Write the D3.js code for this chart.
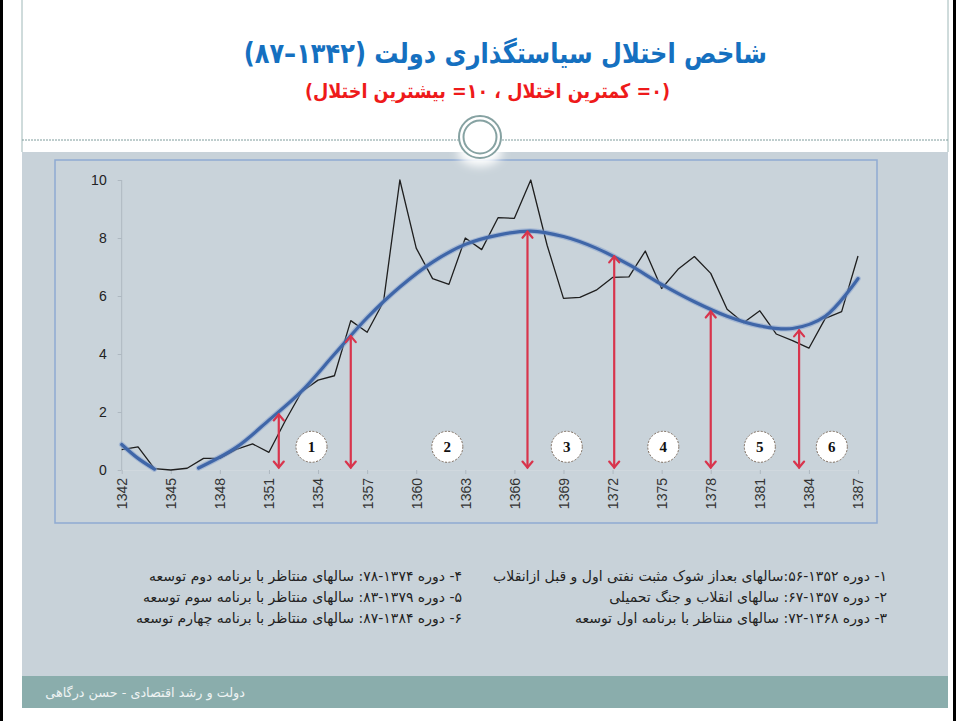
<!DOCTYPE html>
<html><head><meta charset="utf-8">
<script src="https://cdn.jsdelivr.net/npm/d3@7"></script>
<style>body{margin:0;background:#fff}svg{display:block}</style>
</head><body>
<script>
// ---- data ----
const years = [1342,1343,1344,1345,1346,1347,1348,1349,1350,1351,1352,1353,1354,1355,1356,1357,1358,1359,1360,1361,1362,1363,1364,1365,1366,1367,1368,1369,1370,1371,1372,1373,1374,1375,1376,1377,1378,1379,1380,1381,1382,1383,1384,1385,1386,1387];
const index = [0.7,0.8,0.05,0.0,0.06,0.4,0.4,0.71,0.9,0.61,1.7,2.7,3.1,3.25,5.15,4.75,5.8,10,7.65,6.6,6.4,8.0,7.6,8.7,8.68,10,7.75,5.92,5.95,6.2,6.64,6.66,7.55,6.26,6.92,7.36,6.78,5.54,5.08,5.49,4.69,4.46,4.2,5.23,5.46,7.38];
const trendYearsA = [1342,1343,1344];
const trendA = [0.88,0.4,0.03];
const trendYearsB = [1346.7,1349,1351,1353,1355,1357,1359,1361,1363,1365,1367,1369,1371,1373,1375,1377,1379,1381,1383,1385,1387];
const trendB = [0.07,0.78,1.72,2.72,3.99,5.25,6.31,7.17,7.78,8.1,8.24,8.05,7.65,7.08,6.4,5.8,5.3,4.97,4.88,5.3,6.6];
const arrowYears = [1351.6,1356,1366.8,1372.1,1378,1383.4];
const arrowTops = [1.95,4.65,8.25,7.4,5.5,4.85];
const arrowBottom = 0.05;
const periodLabels = ["1","2","3","4","5","6"];
const periodYears = [1353.6,1361.9,1369.2,1375.1,1381,1385.4];
const periodLevel = 0.8;
const yTicks = [0,2,4,6,8,10];
const xTicks = [1342,1345,1348,1351,1354,1357,1360,1363,1366,1369,1372,1375,1378,1381,1384,1387];
const title = "شاخص اختلال سیاستگذاری دولت (۱۳۴۲–۸۷)";
const subtitle = "(۰= کمترین اختلال ، ۱۰= بیشترین اختلال)";
const notesRight = ["۱- دوره ۱۳۵۲-۵۶:سالهای بعداز شوک مثبت نفتی اول و قبل ازانقلاب","۲- دوره ۱۳۵۷-۶۷: سالهای انقلاب و جنگ تحمیلی","۳- دوره ۱۳۶۸-۷۲: سالهای منتاظر با برنامه اول توسعه"];
const notesLeft = ["۴- دوره ۱۳۷۴-۷۸: سالهای منتاظر با برنامه دوم توسعه","۵- دوره ۱۳۷۹-۸۳: سالهای منتاظر با برنامه سوم توسعه","۶- دوره ۱۳۸۴-۸۷: سالهای منتاظر با برنامه چهارم توسعه"];
const footer = "دولت و رشد اقتصادی - حسن درگاهی";

// ---- drawing ----
const W = 960, H = 721;
const svg = d3.select("body").append("svg").attr("width", W).attr("height", H);
const defs = svg.append("defs");
const blur = defs.append("filter").attr("id","glow").attr("x","-50%").attr("y","-50%").attr("width","200%").attr("height","200%");
blur.append("feGaussianBlur").attr("stdDeviation", 5);

// slide frame
svg.append("rect").attr("x",0).attr("y",0).attr("width",W).attr("height",H).attr("fill","#fff");
svg.append("rect").attr("x",22).attr("y",152).attr("width",926).attr("height",524).attr("fill","#c8d2d9");
svg.append("rect").attr("x",22).attr("y",676).attr("width",926).attr("height",32).attr("fill","#8aadac");
svg.append("line").attr("x1",22).attr("x2",22).attr("y1",0).attr("y2",152).attr("stroke","#9fb8b8").attr("stroke-width",1);
svg.append("line").attr("x1",948).attr("x2",948).attr("y1",0).attr("y2",152).attr("stroke","#9fb8b8").attr("stroke-width",1);
svg.append("rect").attr("x",0).attr("y",0).attr("width",3).attr("height",H).attr("fill","#000");
svg.append("rect").attr("x",953).attr("y",0).attr("width",3).attr("height",H).attr("fill","#000");
svg.append("line").attr("x1",22).attr("x2",948).attr("y1",140).attr("y2",140)
  .attr("stroke","#7e9c9c").attr("stroke-width",1).attr("stroke-dasharray","2,1");

// chart box
svg.append("rect").attr("x",55).attr("y",160).attr("width",822).attr("height",363)
  .attr("fill","#c9d3da").attr("stroke","#8eaad2").attr("stroke-width",1.5);

// ring ornament
svg.append("ellipse").attr("cx",480).attr("cy",152).attr("rx",22).attr("ry",14).attr("fill","#fff").attr("filter","url(#glow)");
svg.append("circle").attr("cx",480).attr("cy",137).attr("r",21).attr("fill","#fff").attr("stroke","#86a2a2").attr("stroke-width",2);
svg.append("circle").attr("cx",480).attr("cy",137).attr("r",16.5).attr("fill","#fff").attr("stroke","#86a2a2").attr("stroke-width",2);

// titles (horizontally condensed to match the narrow display font)
svg.append("text").attr("transform","translate(767,63) scale(0.86,1)").attr("direction","rtl").attr("text-anchor","start")
  .attr("font-family","DejaVu Sans").attr("font-weight","bold").attr("font-size",28).attr("fill","#1570c0").text(title);
svg.append("text").attr("transform","translate(670,98) scale(0.88,1)").attr("direction","rtl").attr("text-anchor","start")
  .attr("font-family","DejaVu Sans").attr("font-weight","bold").attr("font-size",20).attr("fill","#ee1a1a").text(subtitle);

// scales
const x = d3.scaleLinear().domain([1342,1387]).range([121.7,858]);
const y = d3.scaleLinear().domain([0,10]).range([470,180]);

// y axis
const yAxis = svg.append("g").attr("transform","translate(121.7,0)")
  .call(d3.axisLeft(y).tickValues(yTicks).tickSize(4).tickPadding(11));
yAxis.select(".domain").attr("stroke","#aeb8c0").attr("d","M0,180V470");
yAxis.selectAll(".tick line").attr("stroke","#aeb8c0");
yAxis.selectAll("text").attr("font-family","Liberation Sans, Arial").attr("font-size",14).attr("fill","#222");

// x axis
const xAxis = svg.append("g").attr("transform","translate(0,470)")
  .call(d3.axisBottom(x).tickValues(xTicks).tickFormat(d3.format("d")).tickSize(4).tickPadding(6));
xAxis.select(".domain").attr("stroke","#d0d8de");
xAxis.selectAll(".tick line").attr("stroke","#aeb8c0");
xAxis.selectAll("text").attr("font-family","Liberation Sans, Arial").attr("font-size",14).attr("fill","#333")
  .attr("transform","rotate(-90)").attr("text-anchor","end").attr("dy","0.35em").attr("x",-8).attr("y",0);

// index line
const line = d3.line().x((d,i)=>x(years[i])).y(d=>y(d));
svg.append("path").datum(index).attr("d",line).attr("fill","none").attr("stroke","#1e1e1e").attr("stroke-width",1.3).attr("stroke-linejoin","round");

// trend
const tline = (ys) => d3.line().x((d,i)=>x(ys[i])).y(d=>y(d)).curve(d3.curveCatmullRom.alpha(0.5));
[[trendYearsA,trendA],[trendYearsB,trendB]].forEach(([ys,vs])=>{
  svg.append("path").datum(vs).attr("d",tline(ys)).attr("fill","none").attr("stroke","#7f9ccc").attr("stroke-width",5.5).attr("stroke-opacity",0.5).attr("stroke-linecap","round");
  svg.append("path").datum(vs).attr("d",tline(ys)).attr("fill","none").attr("stroke","#3f66a8").attr("stroke-width",3.2).attr("stroke-linecap","round");
});

// arrows
const ag = svg.append("g").attr("stroke","#d8344c").attr("stroke-width",2.2).attr("fill","none").attr("stroke-linecap","round");
arrowYears.forEach((yr,i)=>{
  const ax = x(yr), t = y(arrowTops[i]), b = y(arrowBottom);
  ag.append("line").attr("x1",ax).attr("x2",ax).attr("y1",t+1).attr("y2",b-1);
  ag.append("path").attr("d",`M${ax-5},${t+7}L${ax},${t+1}L${ax+5},${t+7}`);
  ag.append("path").attr("d",`M${ax-5},${b-7}L${ax},${b-1}L${ax+5},${b-7}`);
});

// period circles
const pg = svg.append("g");
periodYears.forEach((yr,i)=>{
  const cx = x(yr), cy = y(periodLevel);
  pg.append("circle").attr("cx",cx).attr("cy",cy).attr("r",15.5).attr("fill","#fff")
    .attr("stroke","#7d6c5e").attr("stroke-width",1).attr("stroke-dasharray","2,1.5");
  pg.append("text").attr("x",cx).attr("y",cy).attr("dy","0.36em").attr("text-anchor","middle")
    .attr("font-family","Liberation Serif").attr("font-weight","bold").attr("font-size",15).attr("fill","#111").text(periodLabels[i]);
});

// notes
const noteSize = 14;
notesRight.forEach((t,i)=>{
  svg.append("text").attr("x",887).attr("y",581+i*21).attr("direction","rtl").attr("text-anchor","start")
    .attr("font-family","DejaVu Sans").attr("font-size",noteSize).attr("fill","#222").text(t);
});
notesLeft.forEach((t,i)=>{
  svg.append("text").attr("x",462).attr("y",581+i*21).attr("direction","rtl").attr("text-anchor","start")
    .attr("font-family","DejaVu Sans").attr("font-size",noteSize).attr("fill","#222").text(t);
});

// footer
svg.append("text").attr("x",245).attr("y",697).attr("direction","rtl").attr("text-anchor","start")
  .attr("font-family","DejaVu Sans").attr("font-size",12.8).attr("fill","#eef3f3").text(footer);
</script>
</body></html>
